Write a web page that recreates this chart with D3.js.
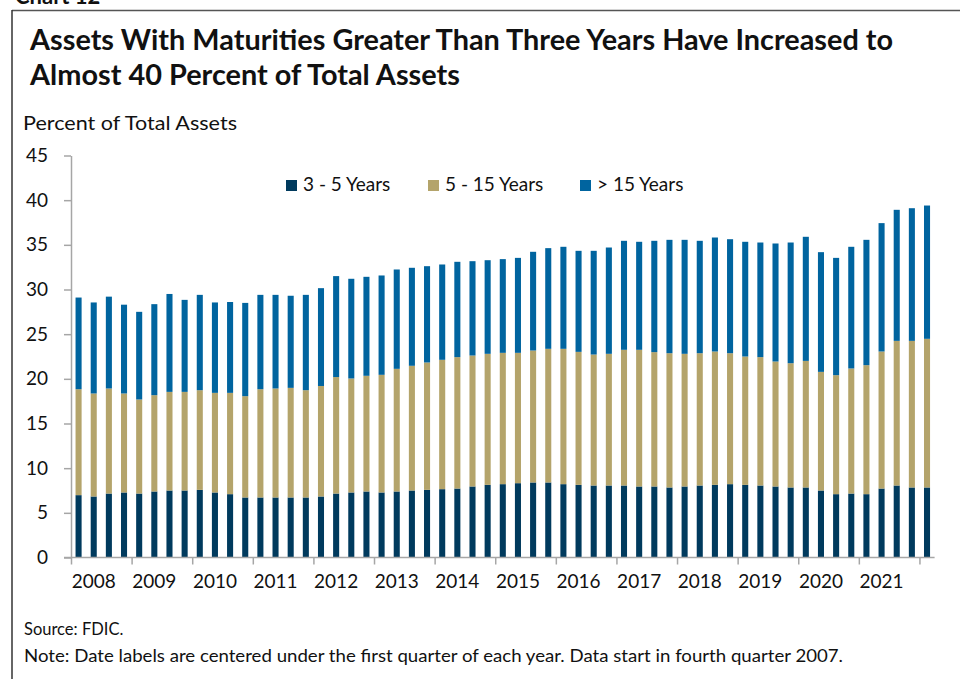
<!DOCTYPE html>
<html>
<head>
<meta charset="utf-8">
<script src="https://cdn.jsdelivr.net/npm/d3@7"></script>
<style>
  html, body { margin: 0; padding: 0; background: #fff; }
  svg { display: block; }
  text { font-family: Lato, "Open Sans", sans-serif; fill: #111; }
</style>
</head>
<body>
<svg id="chart" width="960" height="679"></svg>
<script>
// ---- Data (Q4 2007 .. Q4 2021), percent of total assets ----
const quarters = d3.range(57); // index 0 = Q4 2007
const series = ["3 - 5 Years", "5 - 15 Years", "> 15 Years"];
const years3to5 = [6.98,6.83,7.16,7.28,7.16,7.39,7.50,7.50,7.57,7.28,7.09,6.72,6.72,6.72,6.72,6.72,6.83,7.16,7.28,7.39,7.28,7.39,7.50,7.57,7.65,7.72,7.95,8.13,8.21,8.32,8.40,8.40,8.21,8.13,8.06,8.06,8.06,7.95,7.95,7.84,7.95,8.06,8.13,8.21,8.13,8.06,7.95,7.84,7.84,7.50,7.09,7.16,7.09,7.72,8.06,7.84,7.84];
const years5to15 = [11.86,11.53,11.76,11.08,10.53,10.78,11.04,11.04,11.16,11.15,11.34,11.34,12.12,12.20,12.27,12.01,12.37,13.04,12.76,12.95,13.17,13.73,13.96,14.26,14.48,14.71,14.66,14.67,14.70,14.59,14.77,14.96,15.15,14.89,14.66,14.74,15.19,15.30,15.04,15.03,14.85,14.81,14.93,14.66,14.37,14.37,13.99,13.91,14.17,13.28,13.32,14.00,14.44,15.34,16.19,16.41,16.64];
const yearsOver15 = [10.26,10.19,10.28,9.94,9.81,10.19,10.96,10.30,10.67,10.12,10.17,10.44,10.56,10.48,10.31,10.67,10.95,11.30,11.16,11.08,11.12,11.12,10.97,10.78,10.67,10.67,10.56,10.48,10.49,10.63,11.05,11.27,11.42,11.31,11.61,11.90,12.20,12.09,12.46,12.69,12.76,12.58,12.76,12.76,12.84,12.83,13.21,13.51,13.89,13.40,13.13,13.62,14.03,14.37,14.67,14.85,14.92];
const yearLabels = ["2008","2009","2010","2011","2012","2013","2014","2015","2016","2017","2018","2019","2020","2021"];
const yTicks = [0,5,10,15,20,25,30,35,40,45];
const colors = ["#003a5d", "#b4a46b", "#00649f"];

const table = quarters.map(i => ({
  i,
  [series[0]]: years3to5[i],
  [series[1]]: years5to15[i],
  [series[2]]: yearsOver15[i]
}));

const svg = d3.select("#chart");

// frame
svg.append("line").attr("x1", 12).attr("x2", 960).attr("y1", 10.5).attr("y2", 10.5)
  .attr("stroke", "#555").attr("stroke-width", 1.5);
svg.append("line").attr("x1", 12).attr("x2", 12).attr("y1", 10).attr("y2", 679)
  .attr("stroke", "#333").attr("stroke-width", 1.5);
svg.append("text").attr("x", 15).attr("y", 4).attr("font-size", 22).attr("font-weight", 700).text("Chart 12");

function fitText(sel, w) {
  const n = sel.node();
  const len = n.getComputedTextLength();
  if (len > 0) sel.attr("textLength", w).attr("lengthAdjust", "spacingAndGlyphs");
}

const t1 = svg.append("text").attr("x", 30).attr("y", 50).attr("font-size", 28).attr("font-weight", 700)
  .text("Assets With Maturities Greater Than Three Years Have Increased to");
fitText(t1, 863);
const t2 = svg.append("text").attr("x", 30).attr("y", 85).attr("font-size", 28).attr("font-weight", 700)
  .text("Almost 40 Percent of Total Assets");
fitText(t2, 430);

const yl = svg.append("text").attr("x", 23).attr("y", 130).attr("font-size", 20)
  .text("Percent of Total Assets");
fitText(yl, 214);

// scales
const x = d3.scaleBand().domain(quarters).range([71, 934.6]).paddingInner(0.6).paddingOuter(0.3);
const y = d3.scaleLinear().domain([0, 45]).range([557.5, 155.5]);

// stacked bars
const stack = d3.stack().keys(series)(table);
svg.append("g").selectAll("g").data(stack).join("g")
  .attr("fill", (d, k) => colors[k])
  .selectAll("rect").data(d => d).join("rect")
  .attr("x", d => x(d.data.i))
  .attr("width", x.bandwidth())
  .attr("y", d => y(d[1]))
  .attr("height", d => y(d[0]) - y(d[1]));

// y axis
const yAxis = svg.append("g").attr("transform", "translate(71,0)")
  .call(d3.axisLeft(y).tickValues(yTicks).tickSize(7).tickPadding(16).tickSizeOuter(0));
yAxis.select(".domain").attr("stroke", "#a6a6a6").attr("stroke-width", 1.5);
yAxis.selectAll(".tick line").attr("stroke", "#a6a6a6").attr("stroke-width", 1.5);
yAxis.selectAll(".tick text").attr("font-size", 19).attr("fill", "#111").attr("font-family", "Lato, sans-serif");

// x axis: tick marks at year boundaries, labels centred under Q1
const step = x.step();
const boundaries = d3.range(0, 57, 4).map(i => x(i) - step * x.paddingInner() / 2);
const bscale = d3.scaleIdentity();
const xAxis = svg.append("g").attr("transform", "translate(0,557.5)")
  .call(d3.axisBottom(bscale).tickValues(boundaries).tickSize(7).tickFormat(""));
xAxis.select(".domain").remove();
xAxis.selectAll(".tick line").attr("stroke", "#a6a6a6").attr("stroke-width", 1.5);
svg.append("line").attr("x1", 64).attr("x2", 934.6).attr("y1", 557.5).attr("y2", 557.5)
  .attr("stroke", "#a6a6a6").attr("stroke-width", 1.5);

svg.append("g").selectAll("text").data(yearLabels).join("text")
  .attr("x", (d, k) => x(1 + 4 * k) + x.bandwidth() / 2)
  .attr("y", 588)
  .attr("text-anchor", "middle")
  .attr("font-size", 19)
  .text(d => d);

// legend
const legendX = [286, 428, 580];
const lg = svg.append("g").selectAll("g").data(series).join("g")
  .attr("transform", (d, k) => `translate(${legendX[k]},180)`);
lg.append("rect").attr("width", 11).attr("height", 11).attr("fill", (d, k) => colors[k]);
lg.append("text").attr("x", 17).attr("y", 11).attr("font-size", 19).text(d => d);

// notes
svg.append("text").attr("x", 24).attr("y", 635).attr("font-size", 16.5).text("Source: FDIC.");
const note = svg.append("text").attr("x", 24).attr("y", 662).attr("font-size", 16.5)
  .text("Note: Date labels are centered under the first quarter of each year. Data start in fourth quarter 2007.");
fitText(note, 819);
</script>
</body>
</html>
